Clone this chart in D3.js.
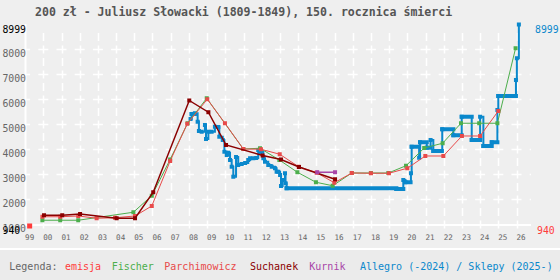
<!DOCTYPE html>
<html><head><meta charset="utf-8">
<script src="https://cdn.jsdelivr.net/npm/d3@7"></script>
<style>body{margin:0;background:#efefef}svg{display:block}</style>
</head><body><svg id="c" width="560" height="280"></svg>
<script>
const title = "200 zł - Juliusz Słowacki (1809-1849), 150. rocznica śmierci";
const tickYears = d3.range(1999, 2027);
const tickLabels = ["99","00","01","02","03","04","05","06","07","08","09","10","11","12","13","14","15","16","17","18","19","20","21","22","23","24","25","26"];
const yTicks = [1000,2000,3000,4000,5000,6000,7000,8000];
const yMin = 940, yMax = 8999;

const emisja = [[1999.25, 940]];
const fischer = [[1999.95,1170],[2000.93,1170],[2001.92,1170],[2004.95,1490],[2005.96,2150],[2006.97,3600],[2007.93,5050],[2008.98,6050],[2010.99,4020],[2011.91,4050],[2012.97,3580],[2013.96,3090],[2014.98,2690],[2015.9,2550],[2016.95,3060],[2018.0,3060],[2018.96,3060],[2019.93,3350],[2020.93,4060],[2021.94,4250],[2022.95,5050],[2023.95,5050],[2024.95,5050],[2025.95,8050]];
const parchimowicz = [[1999.95,1310],[2000.93,1310],[2001.92,1340],[2002.93,1250],[2003.94,1270],[2005.04,1340],[2005.96,1740],[2006.97,3540],[2007.91,5030],[2009.01,6010],[2009.98,5050],[2010.99,4020],[2011.96,4010],[2012.99,3810],[2014.03,3310],[2015.02,3070],[2015.99,2670],[2016.95,3060],[2018.0,3050],[2018.99,3050],[2020.0,3250],[2020.99,3740],[2021.98,3740],[2023.0,4540],[2024.0,4540],[2025.0,5540]];
const suchanek = [[2000.04,1370],[2001.04,1370],[2002.02,1420],[2004.03,1250],[2005.04,1250],[2006.04,2290],[2008.02,5960],[2009.07,5490],[2010.04,4180],[2012.05,3760],[2013.06,3600],[2014.05,3300],[2016.03,2810]];
const kurnik = [[2015.05,3090],[2016.03,3090]];
const allegro = [[2008.09,5220],[2008.15,5420],[2008.33,5450],[2008.48,5110],[2008.55,4740],[2008.70,4710],[2008.88,4980],[2008.94,4420],[2009.07,4710],[2009.25,4710],[2009.43,4910],[2009.62,4900],[2009.67,4510],[2009.86,4380],[2009.95,3910],[2010.08,3780],[2010.16,3870],[2010.26,3580],[2010.35,3310],[2010.44,2910],[2010.59,3700],[2010.71,3380],[2010.90,3420],[2011.09,3460],[2011.26,3580],[2011.36,3650],[2011.54,3650],[2011.70,3660],[2011.81,3980],[2011.93,3900],[2012.09,3650],[2012.18,3510],[2012.36,3380],[2012.55,3310],[2012.73,3250],[2012.82,3110],[2012.91,3110],[2013.01,2980],[2013.06,2540],[2013.15,2780],[2013.28,3050],[2013.31,2650],[2013.37,2450],[2019.40,2420],[2019.78,2780],[2019.90,2690],[2020.20,3050],[2020.24,4110],[2020.65,3670],[2020.70,4290],[2021.07,4070],[2021.28,4380],[2021.43,3940],[2021.92,4810],[2022.53,4570],[2022.99,5310],[2023.54,4380],[2024.00,5310],[2024.18,4140],[2024.64,4290],[2024.95,5580],[2025.00,6140],[2025.97,6780],[2026.02,7650],[2026.13,8999]];
const allegroRuns = [[2008.15,2008.33,5420],[2013.37,2019.40,2450],[2019.40,2019.78,2420],[2019.90,2020.18,2690],[2020.24,2020.65,4110],[2020.70,2021.07,4290],[2021.07,2021.28,4070],[2021.43,2021.90,3940],[2021.92,2022.53,4810],[2022.53,2022.99,4570],[2022.99,2023.54,5310],[2023.54,2024.0,4380],[2024.18,2024.64,4140],[2024.64,2024.95,4290],[2025.0,2025.97,6140]];

const legendNames = ["emisja","Fischer","Parchimowicz","Suchanek","Kurnik","Allegro (-2024) / Sklepy (2025-)"];
const legendX = [65, 111.7, 164.3, 250, 309.3, 360];
const col = {emisja:"#ff3b3b", fischer:"#4cae4c", parch:"#e84a4a", such:"#8a0000", kurnik:"#a845a8", allegro:"#0a88cc"};
const legendCols = [col.emisja, col.fischer, col.parch, col.such, col.kurnik, col.allegro];

const svg = d3.select("#c");
const W = 560, H = 280;
svg.append("rect").attr("width", W).attr("height", H).attr("fill", "#efefef");
svg.append("rect").attr("y", 250).attr("width", W).attr("height", 30).attr("fill", "#ebebeb");
svg.append("rect").attr("y", 248).attr("width", W).attr("height", 2).attr("fill", "#ffffff");

const x = d3.scaleLinear().domain([1999, 2026]).range([25.1, 516.5]);
const y = d3.scaleLinear().domain([yMin, yMax]).range([226, 24.5]);

const mono = "'DejaVu Sans Mono', monospace";
// grid
const g = svg.append("g");
g.selectAll("line.v").data(tickYears.slice(1)).join("line")
  .attr("x1", d => Math.round(x(d)) + 0.5).attr("x2", d => Math.round(x(d)) + 0.5)
  .attr("y1", 33).attr("y2", 229)
  .attr("stroke", "#fff").attr("stroke-width", 1.5)
  .attr("stroke-dasharray", "8,4.5").attr("stroke-dashoffset", 0);
g.selectAll("line.h").data(yTicks.slice(1)).join("line")
  .attr("x1", 25).attr("x2", 531)
  .attr("y1", d => Math.round(y(d)) + 0.5).attr("y2", d => Math.round(y(d)) + 0.5)
  .attr("stroke", "#fff").attr("stroke-width", 1.5)
  .attr("stroke-dasharray", "10,8.2").attr("stroke-dashoffset", 4.9);
// axes lines
g.append("line").attr("x1", 25.5).attr("x2", 25.5).attr("y1", 24).attr("y2", 226).attr("stroke", "#fff").attr("stroke-width", 2);
g.append("line").attr("x1", 25).attr("x2", 531).attr("y1", 225).attr("y2", 225).attr("stroke", "#fff").attr("stroke-width", 2);

// title
svg.append("text").attr("x", 35).attr("y", 16).attr("font-family", mono).attr("font-weight", "bold")
  .attr("font-size", 11.55).attr("fill", "#555").text(title);

// x labels
svg.append("g").selectAll("text").data(tickYears).join("text")
  .attr("x", d => x(d)).attr("y", 240).attr("font-family", mono).attr("font-size", 7.6)
  .attr("fill", "#666").text((d, i) => tickLabels[i]);
// y labels
svg.append("g").selectAll("text").data(yTicks).join("text")
  .attr("x", 26).attr("y", d => y(d) + 7.5).attr("text-anchor", "end").attr("font-family", mono)
  .attr("font-size", 9.8).attr("fill", "#666").text(d => d);
svg.append("text").attr("x", 26).attr("y", y(yMax) + 8).attr("text-anchor", "end").attr("font-family", mono)
  .attr("font-size", 9.8).attr("fill", "#000").text(yMax);
svg.append("text").attr("x", 2.5).attr("y", y(yMin) + 7.5).attr("font-family", mono)
  .attr("font-size", 9.8).attr("fill", "#000").text(yMin);
svg.append("text").attr("x", 535).attr("y", y(yMax) + 8.5).attr("font-family", mono)
  .attr("font-size", 9.8).attr("fill", col.allegro).text(yMax);
svg.append("text").attr("x", 537).attr("y", y(yMin) + 7.5).attr("font-family", mono)
  .attr("font-size", 9.8).attr("fill", col.emisja).text(yMin);

const line = d3.line().x(d => x(d[0])).y(d => y(d[1]));
const step = d3.line().x(d => x(d[0])).y(d => y(d[1])).curve(d3.curveStepAfter);

function marks(data, c, s) {
  svg.append("g").selectAll("rect").data(data).join("rect")
    .attr("x", d => x(d[0]) - s / 2).attr("y", d => y(d[1]) - s / 2)
    .attr("width", s).attr("height", s).attr("fill", c);
}
// allegro
svg.append("path").attr("d", step(allegro)).attr("fill", "none").attr("stroke", col.allegro).attr("stroke-width", 2);
svg.append("g").selectAll("line").data(allegroRuns).join("line")
  .attr("x1", d => x(d[0]) - 2).attr("x2", d => x(d[1]) + 2)
  .attr("y1", d => y(d[2])).attr("y2", d => y(d[2]))
  .attr("stroke", col.allegro).attr("stroke-width", 4);
marks(allegro, col.allegro, 4);

marks(emisja, col.emisja, 5);
function series(data, c, w) {
  svg.append("path").attr("d", line(data)).attr("fill", "none").attr("stroke", c).attr("stroke-width", w);
  marks(data, c, 4);
}
series(fischer, col.fischer, 1);
series(parchimowicz, col.parch, 1);
series(suchanek, col.such, 1.5);
series(kurnik, col.kurnik, 1.5);

// legend
svg.append("text").attr("x", 9.3).attr("y", 270).attr("font-family", mono).attr("font-size", 10)
  .attr("fill", "#666").text("Legenda:");
svg.append("g").selectAll("text").data(legendNames).join("text")
  .attr("x", (d, i) => legendX[i]).attr("y", 270).attr("font-family", mono).attr("font-size", 10)
  .attr("fill", (d, i) => legendCols[i]).text(d => d);
</script></body></html>
